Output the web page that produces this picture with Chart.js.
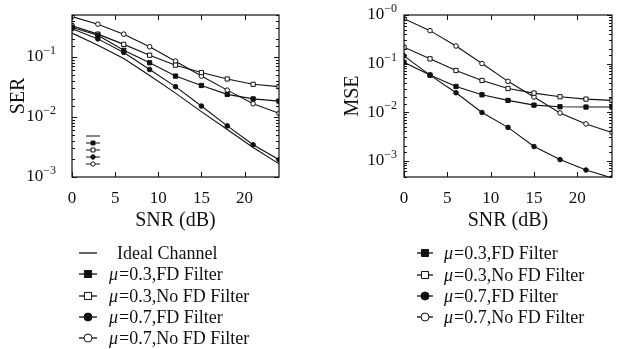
<!DOCTYPE html>
<html>
<head>
<meta charset="utf-8">
<script src="https://cdn.jsdelivr.net/npm/chart.js@4.4.0/dist/chart.umd.min.js"></script>
<style>
  html, body { margin: 0; padding: 0; background: #fff; }
  .wrap { display: flex; width: 620px; height: 349px; }
  canvas { display: block; }
</style>
</head>
<body>
<div class="wrap">
  <canvas id="ser" width="310" height="349"></canvas>
  <canvas id="mse" width="310" height="349"></canvas>
</div>
<script>
// SNR points (dB)
const snr = [0, 3, 6, 9, 12, 15, 18, 21, 24];
const xTicks = [0, 5, 10, 15, 20];

// SER curves
const serIdeal    = [0.25, 0.156, 0.094, 0.049, 0.025, 0.0123, 0.0062, 0.0031, 0.00166];
const serMu03FD   = [0.31, 0.23, 0.129, 0.080, 0.048, 0.0335, 0.0238, 0.020, 0.0184];
const serMu03NoFD = [0.33, 0.24, 0.162, 0.107, 0.073, 0.055, 0.043, 0.035, 0.032];
const serMu07FD   = [0.295, 0.20, 0.119, 0.0617, 0.032, 0.0152, 0.0071, 0.00344, 0.00194];
const serMu07NoFD = [0.47, 0.352, 0.24, 0.148, 0.085, 0.048, 0.028, 0.0166, 0.0115];
const serDecades  = [1e-3, 1e-2, 1e-1];

// MSE curves
const mseMu03FD   = [0.106, 0.058, 0.0337, 0.0227, 0.0174, 0.0139, 0.0129, 0.0127, 0.0127];
const mseMu03NoFD = [0.217, 0.125, 0.072, 0.0448, 0.0306, 0.0246, 0.0207, 0.0185, 0.0174];
const mseMu07FD   = [0.144, 0.0576, 0.025, 0.0098, 0.00484, 0.00195, 0.00105, 0.00064, 0.00044];
const mseMu07NoFD = [0.84, 0.476, 0.23, 0.10, 0.043, 0.0204, 0.0096, 0.0057, 0.0038];
const mseDecades  = [1e-3, 1e-2, 1e-1, 1e0];

const labels = {
  ideal: 'Ideal Channel',
  mu03FD: 'μ=0.3,FD Filter',
  mu03NoFD: 'μ=0.3,No FD Filter',
  mu07FD: 'μ=0.7,FD Filter',
  mu07NoFD: 'μ=0.7,No FD Filter'
};

const SERIF = '"Liberation Serif", "Times New Roman", serif';
const INK = '#111';

// marker look per series
const marks = {
  ideal:    { pointStyle: false,    fill: INK },
  mu03FD:   { pointStyle: 'rect',   fill: INK },
  mu03NoFD: { pointStyle: 'rect',   fill: '#fff' },
  mu07FD:   { pointStyle: 'circle', fill: INK },
  mu07NoFD: { pointStyle: 'circle', fill: '#fff' }
};

function makeSet (key, values) {
  const m = marks[key];
  return {
    key,
    label: labels[key],
    data: snr.map((x, i) => ({ x, y: values[i] })),
    borderColor: INK,
    borderWidth: 1.1,
    backgroundColor: m.fill,
    pointStyle: m.pointStyle,
    pointRadius: m.pointStyle === 'rect' ? 3 : 2.3,
    pointBorderWidth: 1,
    pointBorderColor: INK,
    pointBackgroundColor: m.fill,
    tension: 0
  };
}

function drawMark (ctx, key, x, y, radius) {
  const m = marks[key];
  if (!m.pointStyle) return;
  ctx.save();
  ctx.fillStyle = m.fill;
  ctx.strokeStyle = INK;
  ctx.lineWidth = 1;
  const r = m.pointStyle === 'rect' ? radius * 1.25 : radius;
  Chart.helpers.drawPoint(ctx, { pointStyle: m.pointStyle, rotation: 0, radius: r, borderWidth: 1 }, x, y);
  ctx.restore();
}

// frame, inward ticks, power-of-ten labels and legends
const framePlugin = {
  id: 'frame',
  afterDatasetsDraw (chart, args, opts) {
    const ctx = chart.ctx;
    const { left, right, top, bottom } = chart.chartArea;
    const xs = chart.scales.x;
    const ys = chart.scales.y;
    ctx.save();
    ctx.strokeStyle = INK;
    ctx.lineWidth = 1.2;
    ctx.strokeRect(left, top, right - left, bottom - top);

    ctx.lineWidth = 1;
    ctx.beginPath();
    xTicks.forEach(v => {
      const px = Math.round(xs.getPixelForValue(v)) + 0.5;
      ctx.moveTo(px, bottom); ctx.lineTo(px, bottom - 5);
      ctx.moveTo(px, top); ctx.lineTo(px, top + 5);
    });
    ys.ticks.forEach(t => {
      const v = t.value;
      const mant = v / Math.pow(10, Math.floor(Math.log10(v) + 1e-9));
      const len = Math.abs(mant - 1) < 1e-6 ? 5 : 3;
      const py = Math.round(ys.getPixelForValue(v)) + 0.5;
      if (py < top - 0.5 || py > bottom + 0.5) return;
      ctx.moveTo(left, py); ctx.lineTo(left + len, py);
      ctx.moveTo(right, py); ctx.lineTo(right - len, py);
    });
    ctx.stroke();

    // y labels as 10 with a raised exponent
    ctx.fillStyle = INK;
    ctx.textBaseline = 'middle';
    opts.decades.forEach(d => {
      const py = ys.getPixelForValue(d);
      const exp = '\u2212' + Math.abs(Math.round(Math.log10(d)));
      ctx.font = '12px ' + SERIF;
      const ew = ctx.measureText(exp).width;
      ctx.textAlign = 'left';
      ctx.fillText(exp, opts.labelRight - ew, py - 6);
      ctx.font = '17px ' + SERIF;
      ctx.textAlign = 'right';
      ctx.fillText('10', opts.labelRight - ew, py);
    });

    // legend below the plot
    const lg = opts.legend;
    chart.data.datasets.forEach((ds, i) => {
      const y = lg.rows[i];
      ctx.strokeStyle = INK;
      ctx.lineWidth = 1.3;
      ctx.beginPath();
      ctx.moveTo(lg.x0, y); ctx.lineTo(lg.x1, y);
      ctx.stroke();
      drawMark(ctx, ds.key, (lg.x0 + lg.x1) / 2, y, 4);
      ctx.fillStyle = INK;
      ctx.textAlign = 'left';
      let tx = lg.textX;
      let rest = ds.label;
      if (rest.startsWith('μ')) {
        ctx.font = 'italic 18px ' + SERIF;
        ctx.fillText('μ', tx, y + 1);
        tx += ctx.measureText('μ').width + 1;
        rest = rest.slice(1);
      } else {
        tx += 8;
      }
      ctx.font = '18px ' + SERIF;
      ctx.fillText(rest, tx, y + 1);
    });

    // leftover small key inside the plot
    if (opts.mini) {
      const mk = opts.mini;
      chart.data.datasets.forEach((ds, i) => {
        const y = mk.rows[i];
        ctx.strokeStyle = INK;
        ctx.lineWidth = 1;
        ctx.beginPath();
        ctx.moveTo(mk.x0, y); ctx.lineTo(mk.x1, y);
        ctx.stroke();
        drawMark(ctx, ds.key, (mk.x0 + mk.x1) / 2, y, 2.2);
      });
    }
    ctx.restore();
  }
};

function buildChart (id, sets, yMin, yMax, yTitle, pad, yWidth, titlePad, frameOpts) {
  return new Chart(document.getElementById(id), {
    type: 'line',
    data: { datasets: sets },
    options: {
      responsive: false,
      animation: false,
      layout: { padding: pad },
      plugins: {
        legend: { display: false },
        tooltip: { enabled: false },
        frame: frameOpts
      },
      scales: {
        x: {
          type: 'linear',
          min: 0,
          max: 24,
          afterBuildTicks: s => { s.ticks = xTicks.map(v => ({ value: v })); },
          afterFit: s => { s.height = 56; },
          grid: { display: false, drawTicks: false },
          border: { display: false },
          ticks: { color: INK, font: { family: SERIF, size: 17 }, padding: 11, maxRotation: 0 },
          title: { display: true, text: 'SNR (dB)', color: INK, font: { family: SERIF, size: 20 }, padding: { top: 0, bottom: 0 } }
        },
        y: {
          type: 'logarithmic',
          min: yMin,
          max: yMax,
          afterFit: s => { s.width = yWidth; },
          grid: { display: false, drawTicks: false },
          border: { display: false },
          ticks: { display: false },
          title: { display: true, text: yTitle, color: INK, font: { family: SERIF, size: 20 }, padding: { top: titlePad, bottom: 0 } }
        }
      }
    },
    plugins: [framePlugin]
  });
}

buildChart('ser', [
  makeSet('ideal', serIdeal),
  makeSet('mu03FD', serMu03FD),
  makeSet('mu03NoFD', serMu03NoFD),
  makeSet('mu07FD', serMu07FD),
  makeSet('mu07NoFD', serMu07NoFD)
], 1e-3, 0.5, 'SER', { left: 0, right: 31, top: 15, bottom: 116 }, 72, 7, {
  decades: serDecades,
  labelRight: 56,
  legend: { x0: 79, x1: 97, textX: 109, rows: [253, 274, 296, 317, 338] },
  mini: { x0: 86, x1: 100, rows: [136, 143, 150, 157, 164] }
});

buildChart('mse', [
  makeSet('mu03FD', mseMu03FD),
  makeSet('mu03NoFD', mseMu03NoFD),
  makeSet('mu07FD', mseMu07FD),
  makeSet('mu07NoFD', mseMu07NoFD)
], 4.6e-4, 1, 'MSE', { left: 0, right: 8, top: 15, bottom: 116 }, 94, 31, {
  decades: mseDecades,
  labelRight: 87,
  legend: { x0: 107, x1: 123, textX: 134, rows: [253, 275, 296, 317] }
});
</script>
</body>
</html>
